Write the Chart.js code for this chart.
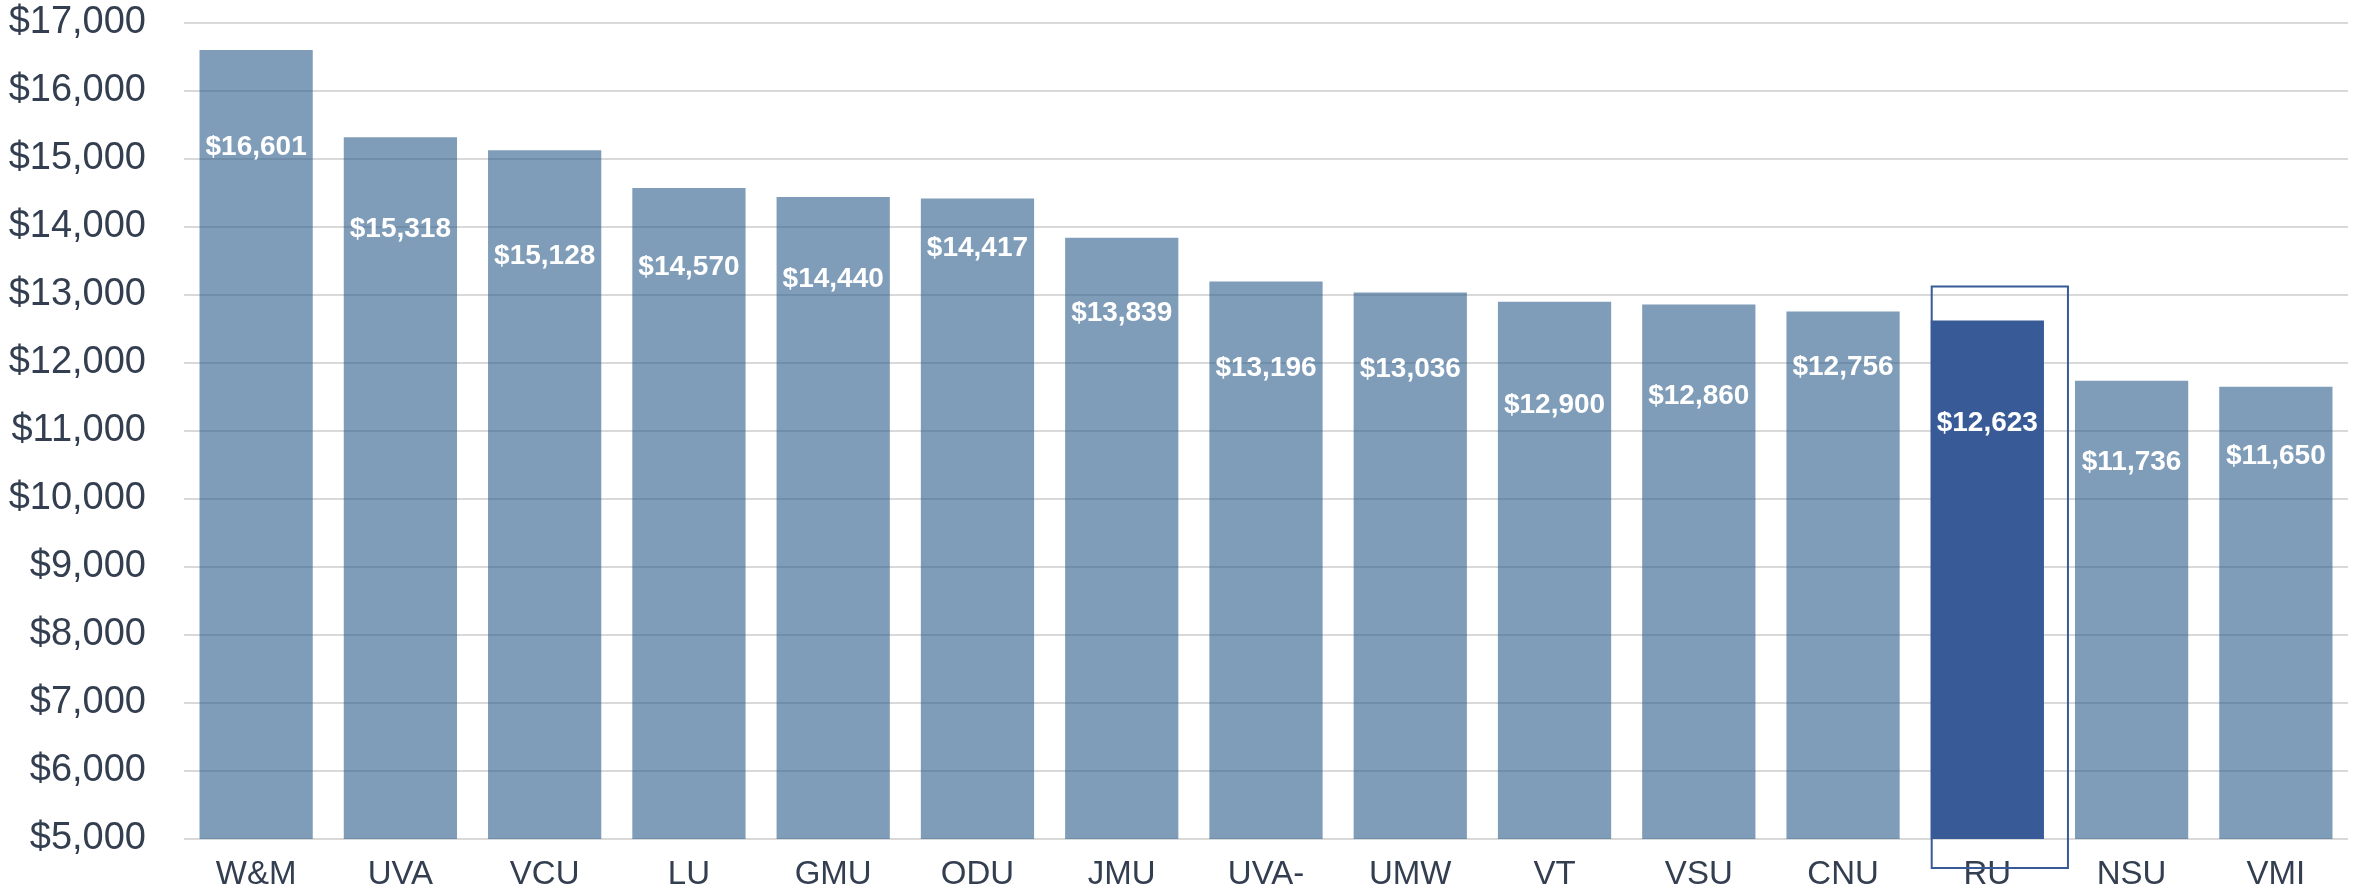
<!DOCTYPE html>
<html lang="en">
<head>
    <meta charset="UTF-8">
    <title>Cost by School</title>
    <script src="https://cdn.jsdelivr.net/npm/chart.js"></script>
    <style>
        html, body { margin: 0; padding: 0; background: #fff; }
        #wrap { width: 2356px; height: 893px; }
    </style>
</head>
<body>
<div id="wrap"><canvas id="costChart"></canvas></div>
<script>
    const schools = ['W&M', 'UVA', 'VCU', 'LU', 'GMU', 'ODU', 'JMU', 'UVA-', 'UMW', 'VT', 'VSU', 'CNU', 'RU', 'NSU', 'VMI'];
    const costs = [16601, 15318, 15128, 14570, 14440, 14417, 13839, 13196, 13036, 12900, 12860, 12756, 12623, 11736, 11650];
    const highlight = 'RU';
    const yTicks = [5000, 6000, 7000, 8000, 9000, 10000, 11000, 12000, 13000, 14000, 15000, 16000, 17000];

    const fmt = v => '$' + v.toLocaleString('en-US');
    const dark = '#333f50';
    const font = 'Liberation Sans, Arial, sans-serif';

    // how far below each bar top its value label sits (px)
    const labelDrop = [97, 92, 106, 79, 82, 50, 75, 87, 77, 104, 92, 56, 103, 81, 70];

    const valueLabels = {
        id: 'valueLabels',
        afterDatasetsDraw(chart) {
            const ctx = chart.ctx;
            const meta = chart.getDatasetMeta(0);
            ctx.save();
            ctx.fillStyle = '#ffffff';
            ctx.font = 'bold 28px ' + font;
            ctx.textAlign = 'center';
            ctx.textBaseline = 'middle';
            meta.data.forEach((bar, i) => {
                ctx.fillText(fmt(costs[i]), bar.x, bar.y + labelDrop[i]);
            });
            ctx.restore();
        }
    };

    const highlightBox = {
        id: 'highlightBox',
        afterDraw(chart) {
            const i = schools.indexOf(highlight);
            const bar = chart.getDatasetMeta(0).data[i];
            const ctx = chart.ctx;
            const left = bar.x - bar.width / 2 + 1;
            const right = bar.x + bar.width / 2 + 24;
            const top = bar.y - 34;
            const bottom = chart.chartArea.bottom + 29;
            ctx.save();
            ctx.strokeStyle = '#385b98';
            ctx.lineWidth = 2;
            ctx.strokeRect(left, top, right - left, bottom - top);
            ctx.restore();
        }
    };

    new Chart(document.getElementById('costChart'), {
        type: 'bar',
        data: {
            labels: schools,
            datasets: [{
                data: costs,
                backgroundColor: schools.map(s => s === highlight ? 'rgb(56,91,152)' : 'rgba(42,92,137,0.6)'),
                borderWidth: 0,
                barPercentage: 0.785,
                categoryPercentage: 1
            }]
        },
        options: {
            responsive: true,
            maintainAspectRatio: false,
            animation: false,
            layout: { padding: { top: 0, right: 8, left: 0, bottom: 0 } },
            plugins: {
                legend: { display: false },
                tooltip: { enabled: false }
            },
            scales: {
                x: {
                    grid: { display: false },
                    border: { display: false },
                    ticks: {
                        color: dark,
                        font: { family: font, size: 33 },
                        padding: 8,
                        maxRotation: 0,
                        autoSkip: false
                    },
                    afterFit: s => { s.height = 54; }
                },
                y: {
                    min: 5000,
                    max: 17000,
                    grid: { color: '#d9d9d9', lineWidth: 2, tickColor: 'rgba(0,0,0,0)', tickLength: 38 },
                    border: { display: false },
                    afterBuildTicks: s => { s.ticks = yTicks.map(v => ({ value: v })); },
                    ticks: {
                        color: dark,
                        font: { family: font, size: 38 },
                        padding: 0,
                        callback: v => fmt(v)
                    },
                    afterFit: s => { s.width = 184; }
                }
            }
        },
        plugins: [valueLabels, highlightBox]
    });
</script>
</body>
</html>
